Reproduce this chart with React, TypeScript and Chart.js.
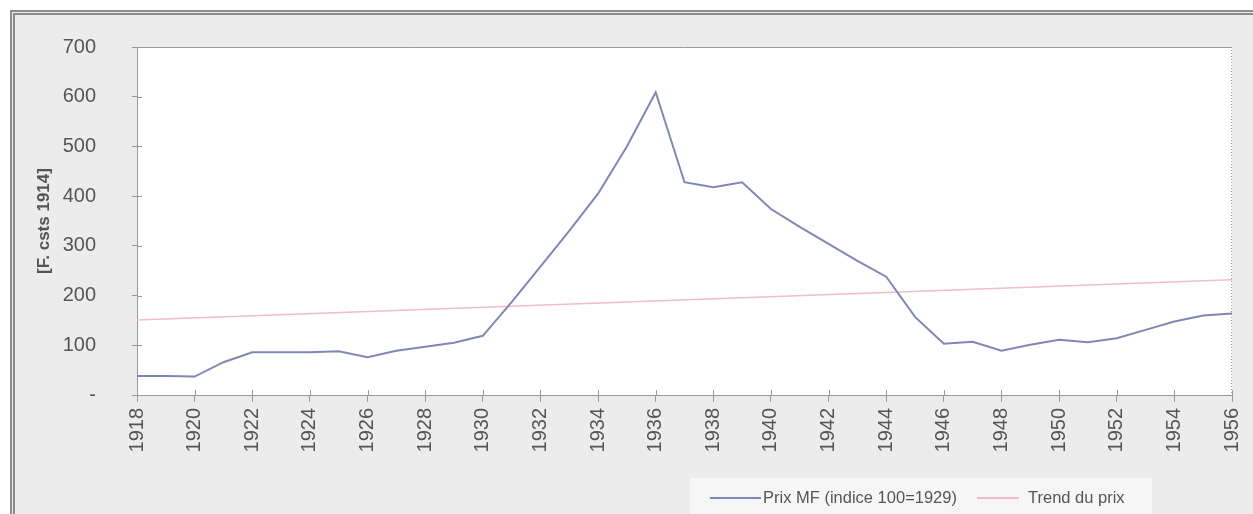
import React, { useEffect, useRef } from "react";
import { Chart, registerables } from "chart.js";

Chart.register(...registerables);

const years = [
  1918, 1919, 1920, 1921, 1922, 1923, 1924, 1925, 1926, 1927,
  1928, 1929, 1930, 1931, 1932, 1933, 1934, 1935, 1936, 1937,
  1938, 1939, 1940, 1941, 1942, 1943, 1944, 1945, 1946, 1947,
  1948, 1949, 1950, 1951, 1952, 1953, 1954, 1955, 1956,
];
const priceValues = [
  38, 38, 37, 66, 86, 86, 86, 88, 76, 89,
  97, 105, 119, 187, 258, 330, 405, 500, 609, 428,
  418, 428, 374, 338, 304, 270, 238, 157, 103, 107,
  89, 101, 111, 106, 114, 131, 148, 160, 164,
];
const trendYears = [1918, 1956];
const trendValues = [151, 232];

const priceLabel = "Prix MF (indice 100=1929)";
const trendLabel = "Trend du prix";
const yAxisTitle = "[F. csts 1914]";

const FONT = "'Liberation Sans', Arial, Helvetica, sans-serif";
const TEXT = "#555555";
const PRICE_COLOR = "#8087b6";
const TREND_COLOR = "#f2bccb";
const AXIS_COLOR = "#9a9a9a";

const framePlugin = {
  id: "framePlugin",
  beforeDraw(chart: any) {
    const { ctx, chartArea: a } = chart;
    ctx.save();
    ctx.fillStyle = "#ffffff";
    ctx.fillRect(a.left, a.top, a.right - a.left, a.bottom - a.top);
    ctx.restore();
  },
  afterDraw(chart: any) {
    const { ctx, chartArea: a, scales } = chart;
    ctx.save();
    ctx.strokeStyle = AXIS_COLOR;
    ctx.lineWidth = 1;
    ctx.beginPath();
    ctx.moveTo(a.left, a.top + 0.5);
    ctx.lineTo(a.right, a.top + 0.5);
    ctx.stroke();
    ctx.setLineDash([1, 2]);
    ctx.beginPath();
    ctx.moveTo(a.right - 0.5, a.top);
    ctx.lineTo(a.right - 0.5, a.bottom);
    ctx.stroke();
    ctx.setLineDash([]);
    const xs = scales.x;
    xs.ticks.forEach((t: any) => {
      const px = Math.round(xs.getPixelForValue(t.value)) + 0.5;
      ctx.beginPath();
      ctx.moveTo(px, a.bottom);
      ctx.lineTo(px, a.bottom - 5);
      ctx.stroke();
    });
    const ys = scales.y;
    ys.ticks.forEach((t: any) => {
      const py = Math.round(ys.getPixelForValue(t.value)) + 0.5;
      ctx.beginPath();
      ctx.moveTo(a.left, py);
      ctx.lineTo(a.left + 5, py);
      ctx.stroke();
    });
    ctx.restore();
  },
};

export default function App() {
  const canvasRef = useRef<HTMLCanvasElement | null>(null);

  useEffect(() => {
    const canvas = canvasRef.current;
    if (!canvas) return;
    const chart = new Chart(canvas, {
      type: "line",
      data: {
        datasets: [
          {
            label: priceLabel,
            data: years.map((yr, i) => ({ x: yr, y: priceValues[i] })),
            borderColor: PRICE_COLOR,
            backgroundColor: PRICE_COLOR,
            borderWidth: 2,
            pointRadius: 0,
            tension: 0,
          },
          {
            label: trendLabel,
            data: trendYears.map((yr, i) => ({ x: yr, y: trendValues[i] })),
            borderColor: TREND_COLOR,
            backgroundColor: TREND_COLOR,
            borderWidth: 1.5,
            pointRadius: 0,
            tension: 0,
          },
        ],
      },
      options: {
        responsive: false,
        animation: false,
        devicePixelRatio: 1,
        layout: { padding: { left: 20, top: 47, right: 21, bottom: 59 } },
        plugins: {
          legend: { display: false },
          tooltip: { enabled: false },
        },
        scales: {
          x: {
            type: "linear",
            min: 1918,
            max: 1956,
            ticks: {
              stepSize: 2,
              autoSkip: false,
              maxRotation: 90,
              minRotation: 90,
              padding: 6,
              color: TEXT,
              font: { family: FONT, size: 20 },
              callback: (v: any) => String(v),
            },
            grid: { drawOnChartArea: false, tickLength: 7, color: AXIS_COLOR },
            border: { color: AXIS_COLOR },
            afterFit: (s: any) => {
              s.height = 60;
              s.paddingLeft = 0;
              s.paddingRight = 0;
            },
          },
          y: {
            min: 0,
            max: 700,
            ticks: {
              stepSize: 100,
              padding: 36,
              color: TEXT,
              font: { family: FONT, size: 20 },
              callback: (v: any) => (v === 0 ? "-" : String(v)),
            },
            grid: { drawOnChartArea: false, tickLength: 5, color: AXIS_COLOR },
            border: { color: AXIS_COLOR },
            title: {
              display: true,
              text: yAxisTitle,
              color: TEXT,
              font: { family: FONT, size: 17, weight: "bold" },
              padding: { top: 14, bottom: 0 },
            },
            afterFit: (s: any) => {
              s.width = 117;
              s.paddingTop = 0;
              s.paddingBottom = 0;
            },
          },
        },
      },
      plugins: [framePlugin],
    } as any);
    return () => chart.destroy();
  }, []);

  const legendText: React.CSSProperties = {
    position: "absolute",
    top: 487,
    height: 20,
    lineHeight: "20px",
    fontFamily: FONT,
    fontSize: 16.5,
    color: TEXT,
    whiteSpace: "nowrap",
  };

  return (
    <div
      style={{
        position: "fixed",
        left: 0,
        top: 0,
        width: 1253,
        height: 514,
        background: "#ffffff",
        overflow: "hidden",
      }}
    >
      <div
        style={{
          position: "absolute",
          left: 10,
          top: 10,
          width: 1260,
          height: 520,
          borderTop: "5px double #8c8c8c",
          borderLeft: "5px double #8c8c8c",
          background: "#ececec",
        }}
      />
      <div
        style={{
          position: "absolute",
          left: 690,
          top: 478,
          width: 462,
          height: 40,
          background: "#f6f6f6",
        }}
      />
      <canvas
        ref={canvasRef}
        width={1253}
        height={514}
        style={{ position: "absolute", left: 0, top: 0, width: 1253, height: 514 }}
      />
      <div
        style={{
          position: "absolute",
          left: 710,
          top: 497,
          width: 51,
          height: 1.5,
          background: PRICE_COLOR,
        }}
      />
      <div style={{ ...legendText, left: 763 }}>{priceLabel}</div>
      <div
        style={{
          position: "absolute",
          left: 977,
          top: 497,
          width: 42,
          height: 1.5,
          background: TREND_COLOR,
        }}
      />
      <div style={{ ...legendText, left: 1028 }}>{trendLabel}</div>
    </div>
  );
}
